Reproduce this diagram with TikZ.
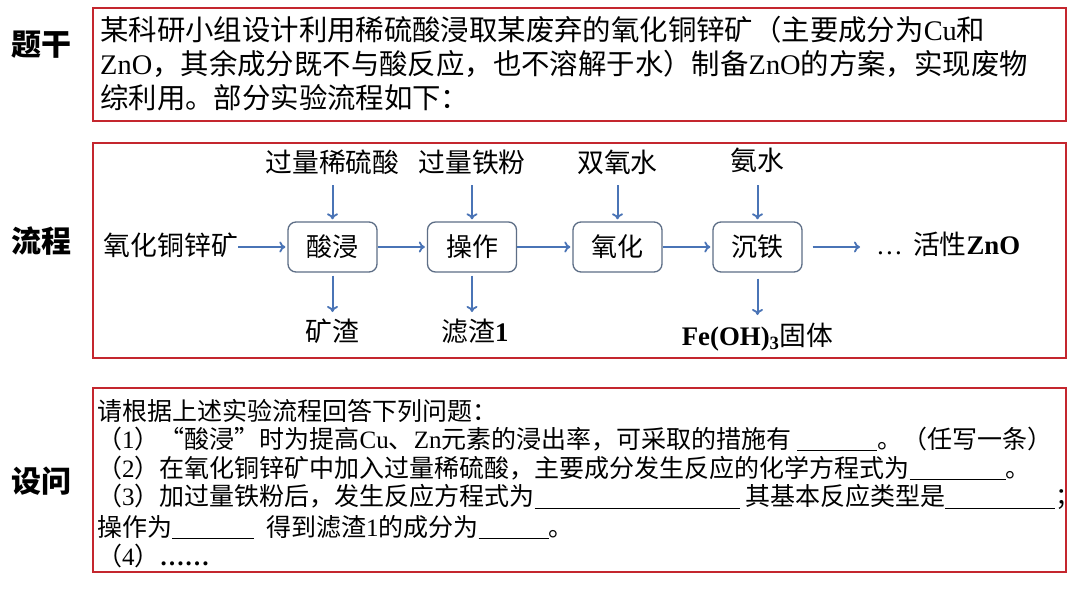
\documentclass[tikz,border=0pt]{standalone}
\usepackage{fontspec}
\setmainfont{Liberation Serif}
\newfontfamily\cjk{Noto Sans CJK SC}
\usetikzlibrary{arrows.meta}
\definecolor{frame}{HTML}{C4262E}
\definecolor{flow}{HTML}{4A74B6}
\definecolor{pbox}{HTML}{5D6E86}
\newcommand\lt[1]{{\rmfamily #1}}
\newcommand\blank[1]{\rule[-3pt]{#1pt}{0.9pt}}
\tikzset{
  redbox/.style={draw=frame,line width=2.2pt,fill=white},
  side/.style={font=\fontsize{30}{32}\cjk\bfseries},
  stem/.style={anchor=west,inner sep=0pt,font=\fontsize{28.4}{30}\cjk},
  ask/.style={anchor=west,inner sep=0pt,font=\fontsize{25}{27}\cjk},
  proc/.style={draw=pbox,line width=1.3pt,rounded corners=8pt,fill=white,minimum width=89pt,minimum height=50pt,inner sep=0pt,font=\fontsize{26}{28}\cjk},
  lab/.style={inner sep=0pt,font=\fontsize{26.8}{28}\cjk},
  arr/.style={draw=flow,line width=2pt,shorten >=2pt,-{To[length=6pt,width=11pt,line width=1.8pt]}}
}
\begin{document}
\begin{tikzpicture}[x=1pt,y=-1pt]
\useasboundingbox (0,0) rectangle (1080,608);
\fill[white] (0,0) rectangle (1080,608);
% side labels
\node[side] (s1) at (42,45) {题干};
\node[side] (s2) at (42,241) {流程};
\node[side] (s3) at (42,481) {设问};
% frames
\draw[redbox] (93,8) rectangle (1066,121);
\draw[redbox] (93,143) rectangle (1066,358);
\draw[redbox] (93,388) rectangle (1066,572);
% stem text
\node[stem] (l1) at (100,30) {某科研小组设计利用稀硫酸浸取某废弃的氧化铜锌矿（主要成分为\lt{Cu}和};
\node[stem] (l2) at (100,64) {\lt{ZnO}，其余成分既不与酸反应，也不溶解于水）制备\lt{ZnO}的方案，实现废物};
\node[stem] (l3) at (100,98) {综利用。部分实验流程如下：};
% process
\node[lab,anchor=east] (src) at (238,245) {氧化铜锌矿};
\node[proc] (b1) at (332.5,247) {酸浸};
\node[proc] (b2) at (472,247) {操作};
\node[proc] (b3) at (617.5,247) {氧化};
\node[proc] (b4) at (757.5,247) {沉铁};
\node[lab] (t1) at (332.5,162) {过量稀硫酸};
\node[lab] (t2) at (472,162) {过量铁粉};
\node[lab] (t3) at (617.5,162) {双氧水};
\node[lab] (t4) at (757.5,160) {氨水};
\node[lab] (d1) at (332.5,331) {矿渣};
\node[lab] (d2) at (475,331) {滤渣\lt{\bfseries 1}};
\node[lab] (d3) at (757.5,337) {\lt{\bfseries Fe(OH)$_{\mathbf 3}$}固体};
\node[lab,anchor=west] (out) at (876,244) {\lt{…}\hspace{10pt}活性\lt{\bfseries ZnO}};
\coordinate (outtip) at (862,247);
% arrows
\draw[arr] (src.east |- b1.west) -- (b1.west);
\draw[arr] (b1.east) -- (b2.west);
\draw[arr] (b2.east) -- (b3.west);
\draw[arr] (b3.east) -- (b4.west);
\draw[arr] ([xshift=10pt]b4.east) -- (outtip);
\draw[arr] (b1.north |- 0,185) -- (b1.north);
\draw[arr] (b2.north |- 0,185) -- (b2.north);
\draw[arr] (b3.north |- 0,185) -- (b3.north);
\draw[arr] (b4.north |- 0,185) -- (b4.north);
\draw[arr] ([yshift=-3pt]b1.south) -- (b1.south |- 0,314);
\draw[arr] ([yshift=-3pt]b2.south) -- (b2.south |- 0,314);
\draw[arr] ([yshift=-6pt]b4.south) -- (b4.south |- 0,317);
% questions
\node[ask] (q0) at (97,411) {请根据上述实验流程回答下列问题：};
\node[ask] (q1) at (97,439) {（\lt{1}）“酸浸”时为提高\lt{Cu}、\lt{Zn}元素的浸出率，可采取的措施有 \blank{80}。（任写一条）};
\node[ask] (q2) at (97,468) {（\lt{2}）在氧化铜锌矿中加入过量稀硫酸，主要成分发生反应的化学方程式为\blank{96}。};
\node[ask] (q3) at (97,497) {（\lt{3}）加过量铁粉后，发生反应方程式为\blank{205} 其基本反应类型是\blank{110}；};
\node[ask] (q4) at (97,527) {操作为\blank{82}\hspace{12pt}得到滤渣\lt{1}的成分为\blank{70}。};
\node[ask] (q5) at (97,556) {（\lt{4}）\lt{\bfseries ……}};
\end{tikzpicture}
\end{document}
